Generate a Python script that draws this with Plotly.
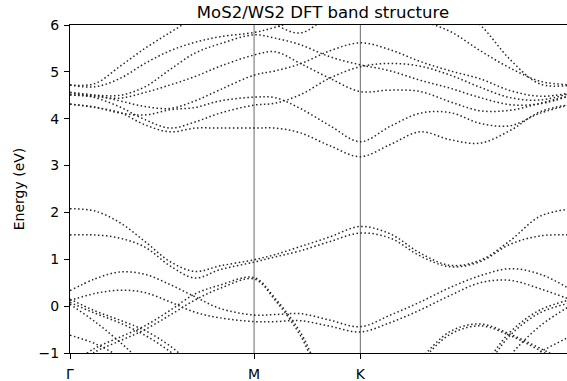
import plotly.graph_objects as go

# k-path distance (units of 2*pi/a): Γ -> M -> K -> Γ
k_path = [0.0, 0.078, 0.157, 0.235, 0.314, 0.392, 0.471, 0.5774,
          0.643, 0.722, 0.816, 0.9107,
          1.005, 1.099, 1.193, 1.287, 1.381, 1.475, 1.5774]

sym_k = [0.0, 0.5774, 0.9107, 1.5774]
sym_labels = ["Γ", "M", "K", "Γ"]

# conduction-side bands (eV)
band_c1 = [4.72, 4.75, 5.12, 5.50, 5.84, 6.15, 6.33, 6.35,
           6.02, 5.83, 6.20, 6.40,
           6.30, 6.10, 5.86, 5.45, 5.08, 4.80, 4.72]
band_c2 = [4.72, 4.68, 4.86, 5.18, 5.45, 5.63, 5.75, 5.84,
           5.95, 6.12, 6.35, 6.60,
           6.70, 6.70, 6.50, 6.00, 5.26, 4.74, 4.72]
band_c3 = [4.51, 4.50, 4.50, 4.68, 5.05, 5.40, 5.60, 5.79,
           5.72, 5.58, 5.32, 5.15,
           5.02, 4.82, 4.65, 4.45, 4.30, 4.32, 4.51]
band_c4 = [4.51, 4.47, 4.44, 4.56, 4.72, 4.90, 5.12, 5.36,
           5.43, 5.18, 4.86, 4.58,
           4.61, 4.58, 4.36, 4.17, 4.18, 4.33, 4.51]
band_c5 = [4.56, 4.50, 4.38, 4.26, 4.22, 4.38, 4.62, 4.93,
           5.02, 5.17, 5.45, 5.62,
           5.47, 5.22, 5.02, 4.85, 4.60, 4.48, 4.56]
band_c6 = [4.31, 4.25, 4.12, 4.08, 4.19, 4.24, 4.38, 4.46,
           4.45, 4.22, 3.85, 3.51,
           3.84, 4.12, 4.13, 3.90, 3.85, 4.12, 4.31]
band_c7 = [4.56, 4.45, 4.25, 3.98, 3.80, 3.93, 4.12, 4.29,
           4.33, 4.51, 4.87, 5.11,
           5.18, 5.12, 4.93, 4.67, 4.45, 4.40, 4.56]
band_c8 = [4.31, 4.24, 4.13, 3.87, 3.72, 3.80, 3.80, 3.80,
           3.80, 3.70, 3.42, 3.19,
           3.45, 3.72, 3.55, 3.48, 3.75, 4.15, 4.31]

# valence-side bands (eV)
band_v1 = [2.08, 2.03, 1.78, 1.38, 0.95, 0.74, 0.86, 0.99,
           1.10, 1.27, 1.48, 1.70,
           1.54, 1.13, 0.87, 0.98, 1.40, 1.92, 2.08]
band_v2 = [1.52, 1.52, 1.45, 1.26, 0.86, 0.60, 0.78, 0.94,
           1.05, 1.18, 1.38, 1.56,
           1.45, 1.07, 0.84, 0.95, 1.32, 1.50, 1.52]
band_v3 = [0.33, 0.58, 0.73, 0.68, 0.46, 0.20, -0.05, -0.19,
           -0.18, -0.16, -0.30, -0.44,
           -0.19, 0.09, 0.40, 0.65, 0.80, 0.68, 0.33]
band_v4 = [0.12, 0.27, 0.34, 0.29, 0.09, -0.13, -0.25, -0.33,
           -0.33, -0.31, -0.43, -0.55,
           -0.35, -0.08, 0.23, 0.50, 0.55, 0.37, 0.12]
band_v5 = [0.15, -0.10, -0.30, -0.52, -0.85, -1.30, -1.70, -2.00,
           -2.10, -2.20, -2.30, -2.30,
           -2.30, -2.20, -1.90, -1.35, -0.55, -0.08, 0.15]
band_v6 = [0.08, -0.15, -0.36, -0.62, -0.97, -1.40, -1.80, -2.10,
           -2.20, -2.30, -2.40, -2.40,
           -2.40, -2.30, -2.00, -1.45, -0.62, -0.14, 0.08]
band_v7 = [0.04, -0.33, -0.77, -1.25, -1.70, -2.10, -2.40, -2.60,
           -2.70, -2.80, -2.80, -2.80,
           -2.80, -2.70, -2.50, -1.90, -1.05, -0.42, 0.04]
band_v8 = [-0.62, -0.80, -1.08, -1.40, -1.70, -2.00, -2.20, -2.30,
           -2.40, -2.50, -2.50, -2.50,
           -2.50, -2.40, -2.20, -1.85, -1.40, -0.98, -0.62]
band_v9 = [-1.25, -0.90, -0.66, -0.42, -0.09, 0.26, 0.45, 0.61,
           0.17, -0.55, -1.80, -2.30,
           -1.70, -1.12, -0.54, -0.38, -0.60, -0.90, -1.25]
band_v10 = [-1.35, -0.98, -0.74, -0.50, -0.19, 0.13, 0.38, 0.58,
            0.13, -0.62, -1.90, -2.40,
            -1.80, -1.18, -0.60, -0.42, -0.63, -0.95, -1.35]

bands = [band_c1, band_c2, band_c3, band_c4, band_c5, band_c6, band_c7, band_c8,
         band_v1, band_v2, band_v3, band_v4, band_v5, band_v6, band_v7, band_v8,
         band_v9, band_v10]

FONT = "DejaVu Sans"
W, H = 567, 381
ML, MT, MB = 70, 25, 28
px_per_k = 318.8
x_max = (W - ML) / px_per_k

fig = go.Figure()
for e in bands:
    fig.add_trace(go.Scatter(
        x=k_path, y=e, mode="lines",
        line=dict(color="#262626", width=1.5, dash="1.5px,2.5px",
                  shape="spline", smoothing=1.0),
        hoverinfo="skip", showlegend=False))

# high-symmetry vertical markers (interior points)
for kx in sym_k[1:-1]:
    fig.add_shape(type="line", xref="x", yref="y", x0=kx, x1=kx, y0=-1, y1=6,
                  line=dict(color="#444444", width=0.8), layer="below")

fig.update_layout(
    width=W, height=H,
    margin=dict(l=ML, r=0, t=MT, b=MB, pad=0),
    paper_bgcolor="white", plot_bgcolor="white",
    font=dict(family=FONT, size=14, color="black"),
    title=dict(text="MoS2/WS2 DFT band structure", font=dict(family=FONT, size=16.5, color="black"),
               x=(323 - ML) / (W - ML), xref="paper", xanchor="center",
               y=1 - 12.5 / H, yref="container", yanchor="middle"),
    xaxis=dict(range=[0, x_max], tickmode="array", tickvals=sym_k[:-1], ticktext=sym_labels[:-1],
               showgrid=False, zeroline=False, showline=True, linecolor="black", linewidth=1.1,
               mirror=True, ticks="outside", ticklen=5, tickwidth=1, tickcolor="black",
               ticklabelstandoff=3,
               tickfont=dict(family=FONT, size=14, color="black")),
    yaxis=dict(range=[-1, 6], tickmode="linear", tick0=-1, dtick=1,
               showgrid=False, zeroline=False, showline=True, linecolor="black", linewidth=1.1,
               mirror=False, ticks="outside", ticklen=5, tickwidth=1, tickcolor="black",
               ticklabelstandoff=2,
               tickfont=dict(family=FONT, size=14, color="black"),
               title=dict(text="Energy (eV)", font=dict(family=FONT, size=14, color="black"),
                          standoff=10)),
)

fig.write_html("out.html")
